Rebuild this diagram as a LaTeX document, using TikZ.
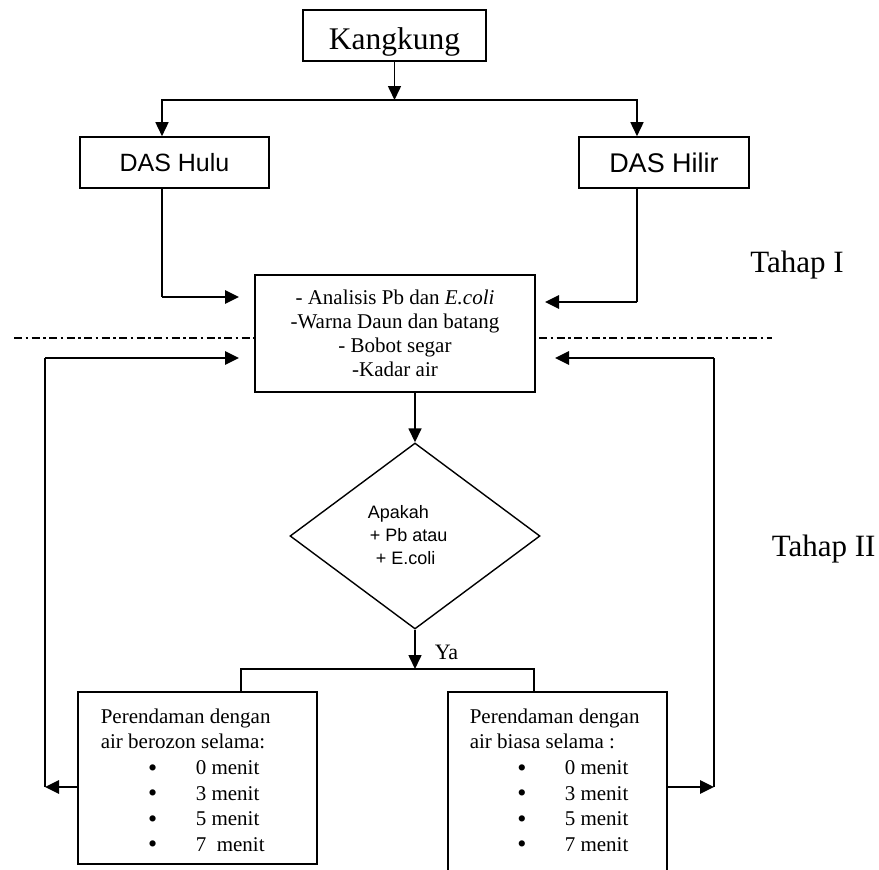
\documentclass[tikz,border=0pt]{standalone}
\usepackage{fontspec}
\setmainfont{Liberation Serif}
\newfontfamily\sansf{Liberation Sans}
\usetikzlibrary{arrows.meta,shapes.geometric}
\newcommand{\fsz}[2]{\fontsize{#1}{#2}\selectfont}
\newcommand{\bitem}[1]{\hspace*{52pt}\makebox[0pt]{\raisebox{-1.5pt}{\fsz{26}{25.6}\textbullet}}\hspace*{43pt}#1}
\begin{document}
\begin{tikzpicture}[x=1pt,y=-1pt,
  line width=1.6pt,
  >={Triangle[length=14pt,width=13pt]},
  box/.style={draw, line width=1.6pt, fill=white, inner sep=0pt},
  harrow/.style={->, line width=2.8pt},
  sepline/.style={line width=1.2pt, dash pattern=on 8pt off 3.5pt on 2.5pt off 3.5pt},
  txt/.style={inner sep=0pt}]
\useasboundingbox (0,0) rectangle (879,870);

% separator line
\coordinate (dl) at (14,338);
\coordinate (dr) at (772,338);
\draw[sepline] (dl) -- (dr);

% nodes
\node[box, minimum width=183pt, minimum height=51pt, font=\fsz{31.5}{36}, text height=27pt, text depth=0pt] (kang) at (394.5,35.5) {Kangkung};
\node[box, minimum width=189pt, minimum height=51pt, font=\sansf\fsz{25}{30}] (hulu) at (174.5,162.5) {DAS Hulu};
\node[box, minimum width=170pt, minimum height=51pt, font=\sansf\fsz{27}{32}] (hilir) at (664,162.5) {DAS Hilir};
\node[box, minimum width=280pt, minimum height=117pt, font=\fsz{21}{24}, align=center] (cbox) at (395,333.5)
  {- Analisis Pb dan \textit{E.coli}\\-Warna Daun dan batang\\- Bobot segar\\-Kadar air};
\node[draw, diamond, minimum width=250pt, minimum height=186pt, inner sep=0pt, line width=1.4pt] (dia) at (415,536) {};
\node[txt, align=left, anchor=north west, font=\sansf\fsz{18}{23}] (diatext) at (367,504.5)
  {Apakah\\\hspace*{2pt}+ Pb atau\\\hspace*{8pt}+ E.coli};
\node[box, minimum width=239pt, minimum height=172pt] (lbox) at (197.5,778) {};
\node[box, minimum width=219pt, minimum height=182pt] (rbox) at (557.5,783) {};
\node[txt, align=left, anchor=north west, font=\fsz{21}{25.6}] (ltext) at (100,708)
  {Perendaman dengan\\air berozon selama:\\\bitem{0 menit}\\\bitem{3 menit}\\\bitem{5 menit}\\\bitem{7\ \ menit}};
\node[txt, align=left, anchor=north west, font=\fsz{21}{25.6}] (rtext) at (469,708)
  {Perendaman dengan\\air biasa selama :\\\bitem{0 menit}\\\bitem{3 menit}\\\bitem{5 menit}\\\bitem{7 menit}};
\node[txt, anchor=west, font=\fsz{22}{26}] (ya) at (434,652) {Ya};
\node[font=\fsz{31}{36}] (t1) at (797,265) {Tahap I};
\node[txt, anchor=west, font=\fsz{31}{36}] (t2) at (771,549) {Tahap II};

% coordinates
\coordinate (jtop) at (394.5,100);
\coordinate (cL1) at (162,297);
\coordinate (tipL1) at (239,297);
\coordinate (cR1) at (637,302);
\coordinate (tipR1) at (545,302);
\coordinate (cL2b) at (45,787);
\coordinate (cL2t) at (45,358);
\coordinate (tipL2) at (239,358);
\coordinate (cR2b) at (714,787);
\coordinate (cR2t) at (714,358);
\coordinate (tipR2) at (555,358);
\coordinate (jbot) at (415,669);

% connectors
\draw[->] (kang.south) -- (jtop);
\draw[->] (jtop) -| ([xshift=-12.5pt]hulu.north);
\draw[->] (jtop) -| ([xshift=-27pt]hilir.north);
\draw (hulu.south -| cL1) -- (cL1);
\draw[harrow] (cL1) -- (tipL1);
\draw (hilir.south -| cR1) -- (cR1);
\draw[harrow] (cR1) -- (tipR1);
\draw[->] (cbox.south -| dia.north) -- (dia.north);
\draw[->] (dia.south) -- (jbot);
\draw ([xshift=43.5pt]lbox.north) |- (jbot) -| ([xshift=-23.5pt]rbox.north);
\draw[harrow] (lbox.west |- cL2b) -- (cL2b);
\draw (cL2b) -- (cL2t);
\draw[harrow] (cL2t) -- (tipL2);
\draw[harrow] (rbox.east |- cR2b) -- (cR2b);
\draw (cR2b) -- (cR2t);
\draw[harrow] (cR2t) -- (tipR2);
\end{tikzpicture}
\end{document}
